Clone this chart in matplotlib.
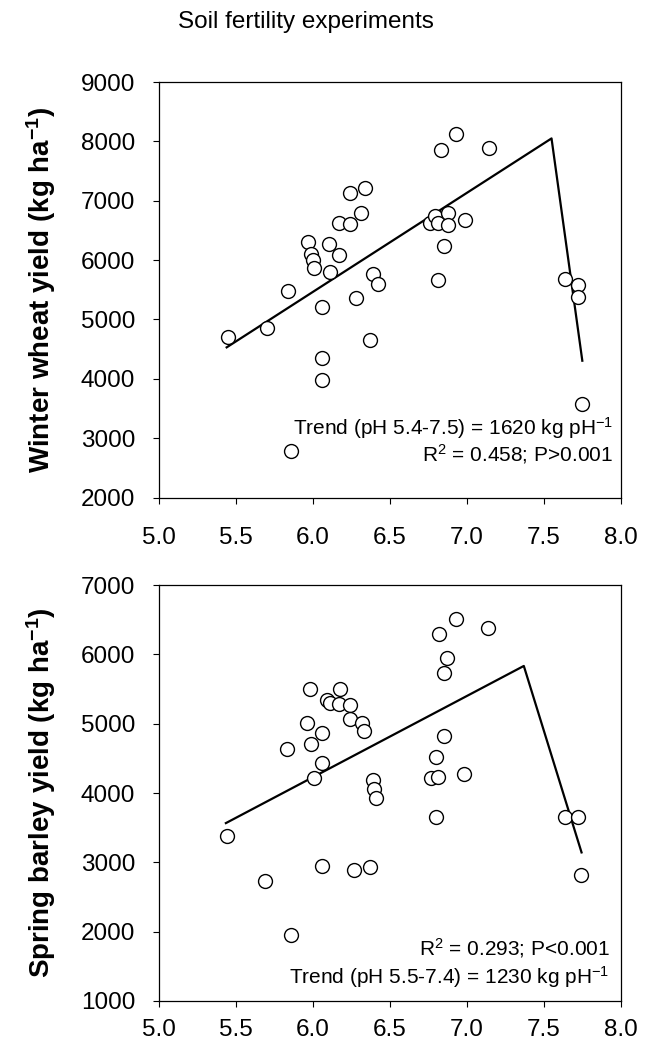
import matplotlib
matplotlib.use("Agg")
import matplotlib.pyplot as plt

plt.rcParams["font.family"] = ["Liberation Sans", "DejaVu Sans"]
plt.rcParams["mathtext.default"] = "regular"

# --- data ------------------------------------------------------------------
wheat_ph = [5.45, 5.70, 5.84, 5.86, 5.97, 5.985, 6.00, 6.01, 6.06, 6.06, 6.06,
            6.105, 6.11, 6.17, 6.17, 6.24, 6.24, 6.31, 6.34, 6.28, 6.37, 6.39,
            6.42, 6.81, 6.76, 6.79, 6.81, 6.88, 6.88, 6.85, 6.99, 6.83, 6.93,
            7.145, 7.64, 7.72, 7.72, 7.745]
wheat_yield = [4710, 4850, 5480, 2790, 6310, 6110, 6000, 5860, 5215, 4345, 3980,
               6270, 5800, 6085, 6620, 7125, 6600, 6790, 7220, 5356, 4654, 5760,
               5600, 5664, 6620, 6740, 6630, 6800, 6590, 6240, 6675, 7855, 8120,
               7885, 5676, 5580, 5384, 3576]
wheat_trend_ph = [5.44, 7.55, 7.75]
wheat_trend_yield = [4530, 8050, 4305]

barley_ph = [5.44, 5.69, 5.83, 5.86, 5.98, 5.965, 5.99, 6.06, 6.06, 6.01, 6.06,
             6.09, 6.11, 6.175, 6.17, 6.24, 6.24, 6.32, 6.33, 6.27, 6.37, 6.39,
             6.40, 6.41, 6.80, 6.77, 6.81, 6.85, 6.80, 6.82, 6.87, 6.85, 6.93,
             6.98, 7.14, 7.64, 7.72, 7.74]
barley_yield = [3383, 2725, 4633, 1957, 5497, 5016, 4705, 4872, 4431, 4215, 2951,
                5343, 5300, 5497, 5290, 5271, 5065, 5007, 4900, 2883, 2932, 4190,
                4056, 3935, 4526, 4215, 4225, 4824, 3653, 6294, 5944, 5737, 6506,
                4272, 6376, 3653, 3653, 2821]
barley_trend_ph = [5.435, 7.37, 7.745]
barley_trend_yield = [3566, 5833, 3143]

x_ticks = [5.0, 5.5, 6.0, 6.5, 7.0, 7.5, 8.0]
wheat_yticks = [2000, 3000, 4000, 5000, 6000, 7000, 8000, 9000]
barley_yticks = [1000, 2000, 3000, 4000, 5000, 6000, 7000]

NOTE_FS = 15


def panel(ax, ph, yld, tph, tyld, yticks, ylabel, xpad):
    ax.plot(tph, tyld, color="black", lw=1.6, zorder=2)
    ax.plot(ph, yld, ls="none", marker="o", ms=10, mfc="white", mec="black",
            mew=1.0, zorder=3)
    ax.set_xlim(5.0, 8.0)
    ax.set_ylim(yticks[0], yticks[-1])
    ax.set_xticks(x_ticks)
    ax.set_xticklabels(["%.1f" % t for t in x_ticks])
    ax.set_yticks(yticks)
    ax.tick_params(axis="both", direction="out", length=4, width=0.8,
                   labelsize=17.5, colors="black")
    ax.tick_params(axis="x", pad=xpad)
    ax.tick_params(axis="y", pad=13)
    for s in ax.spines.values():
        s.set_linewidth(0.9)
    ax.set_ylabel(ylabel, fontsize=20, fontweight="bold")
    ax.yaxis.set_label_coords(-0.218, 0.5)


fig = plt.figure(figsize=(6.46, 10.53), dpi=100)
fig.text(0.474, 0.979, "Soil fertility experiments", ha="center", va="center",
         fontsize=17.5)

ax1 = fig.add_axes([0.246, 0.5275, 0.715, 0.3946])
panel(ax1, wheat_ph, wheat_yield, wheat_trend_ph, wheat_trend_yield,
      wheat_yticks, "Winter wheat yield (kg ha$^{-1}$)", 17)
ax1.text(0.983, 0.168, "Trend (pH 5.4-7.5) = 1620 kg pH$^{-1}$",
         transform=ax1.transAxes, ha="right", va="center", fontsize=NOTE_FS)
ax1.text(0.983, 0.104, "R$^{2}$ = 0.458; P>0.001",
         transform=ax1.transAxes, ha="right", va="center", fontsize=NOTE_FS)

ax2 = fig.add_axes([0.246, 0.0494, 0.715, 0.395])
panel(ax2, barley_ph, barley_yield, barley_trend_ph, barley_trend_yield,
      barley_yticks, "Spring barley yield (kg ha$^{-1}$)", 9)
ax2.text(0.976, 0.127, "R$^{2}$ = 0.293; P<0.001",
         transform=ax2.transAxes, ha="right", va="center", fontsize=NOTE_FS)
ax2.text(0.976, 0.0577, "Trend (pH 5.5-7.4) = 1230 kg pH$^{-1}$",
         transform=ax2.transAxes, ha="right", va="center", fontsize=NOTE_FS)

fig.savefig("out.png", dpi=100)
